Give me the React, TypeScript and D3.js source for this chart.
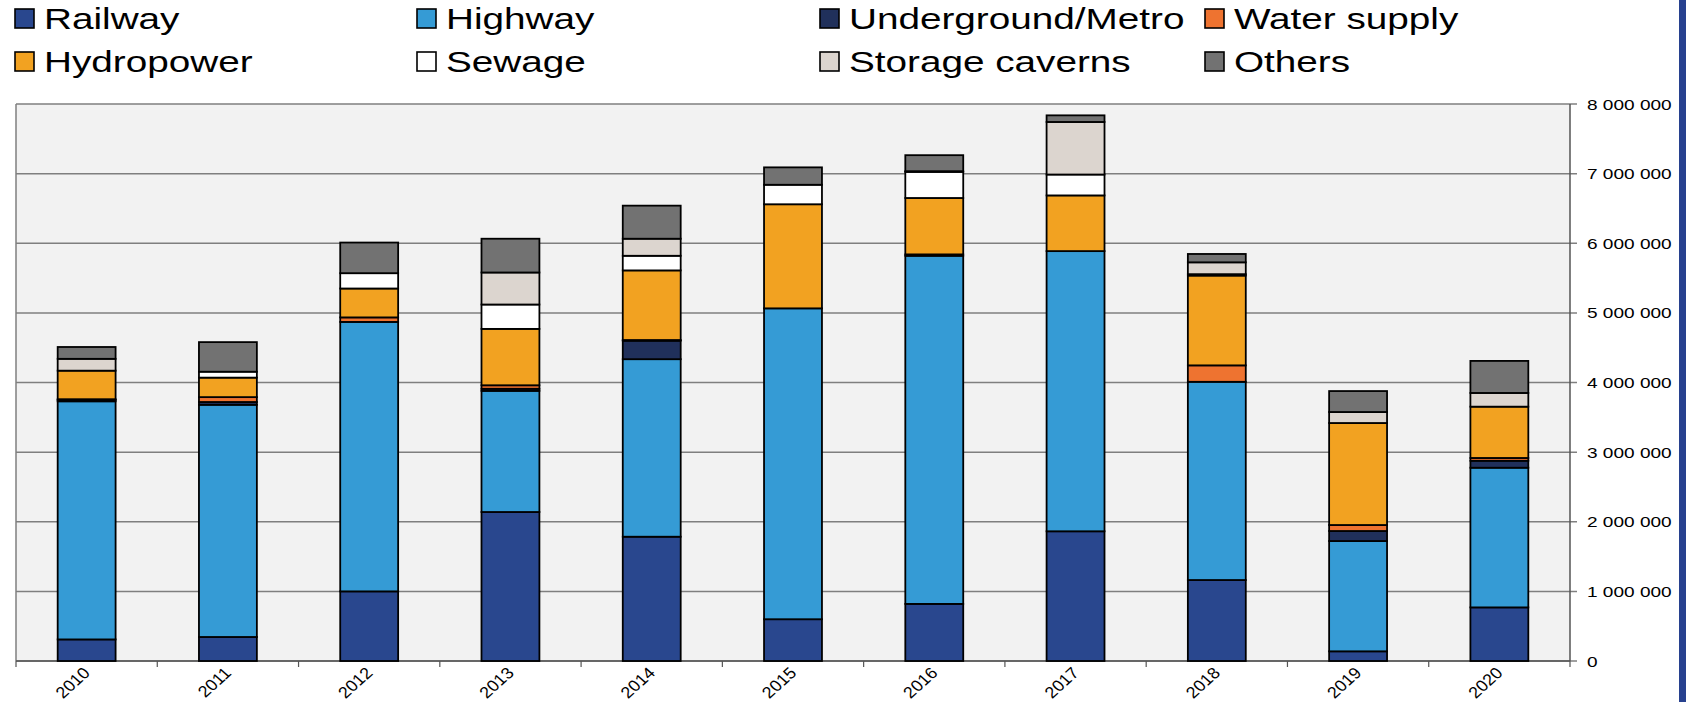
import React from "react";
import * as d3 from "d3";

const years = ["2010","2011","2012","2013","2014","2015","2016","2017","2018","2019","2020"];
const seriesNames = ["Railway","Highway","Underground/Metro","Water supply","Hydropower","Sewage","Storage caverns","Others"];
const seriesColors = ["#29478e","#359bd5","#20305b","#ee7330","#f2a221","#ffffff","#dcd5cf","#727272"];

const railway    = [310000, 345000, 1000000, 2140000, 1785000, 600000, 820000, 1863000, 1163000, 139000, 770000];
const highway    = [3420000, 3335000, 3870000, 1740000, 2550000, 4465000, 5000000, 4024000, 2847000, 1584000, 2006000];
const metro      = [20000, 40000, 0, 30000, 265000, 0, 20000, 0, 0, 144000, 100000];
const water      = [10000, 70000, 65000, 50000, 10000, 0, 0, 0, 236000, 86000, 40000];
const hydropower = [410000, 280000, 415000, 810000, 1000000, 1495000, 810000, 800000, 1290000, 1465000, 737000];
const sewage     = [0, 85000, 220000, 350000, 210000, 280000, 375000, 300000, 20000, 0, 0];
const storage    = [170000, 0, 0, 460000, 245000, 0, 10000, 755000, 170000, 158000, 197000];
const others     = [170000, 425000, 440000, 485000, 475000, 250000, 230000, 95000, 120000, 301000, 460000];

const yTicks = [0, 1000000, 2000000, 3000000, 4000000, 5000000, 6000000, 7000000, 8000000];

const W = 1686, H = 702;
const plotL = 16, plotR = 1570, plotT = 104, plotB = 661;

export default function App() {
  const seriesData = [railway, highway, metro, water, hydropower, sewage, storage, others];
  const rows = years.map((y, i) => {
    const o: any = { year: y };
    seriesNames.forEach((n, k) => (o[n] = seriesData[k][i]));
    return o;
  });
  const stacked = d3.stack().keys(seriesNames)(rows);
  const x = d3.scaleBand().domain(years).range([plotL, plotR]).paddingInner(0.59).paddingOuter(0.295);
  const step = x.step();
  const y = d3.scaleLinear().domain([0, 8000000]).range([plotB, plotT]);
  const fmt = (v: number) => d3.format(",")(v).replace(/,/g, " ");

  const colX = [15, 417, 820, 1205];
  const rowY = [29, 72];
  const legendOrder = ["Railway","Highway","Underground/Metro","Water supply","Hydropower","Sewage","Storage caverns","Others"];

  return (
    <div style={{ position: "fixed", left: 0, top: 0 }}>
      <svg width={W} height={H} style={{ display: "block", fontFamily: "'Liberation Sans', Arial, sans-serif" }}>
        <rect x={0} y={0} width={W} height={H} fill="#ffffff" />
        <rect x={plotL} y={plotT} width={plotR - plotL} height={plotB - plotT} fill="#f2f2f2" />
        {yTicks.map((t) => (
          <line key={"g" + t} x1={plotL} x2={plotR + 7} y1={y(t)} y2={y(t)} stroke="#7f7f7f" strokeWidth={1.5} />
        ))}
        <line x1={plotL} x2={plotL} y1={plotT} y2={plotB} stroke="#7f7f7f" strokeWidth={1.5} />
        <line x1={plotR} x2={plotR} y1={plotT} y2={plotB} stroke="#555" strokeWidth={1.5} />
        <line x1={plotL} x2={plotR} y1={plotB} y2={plotB} stroke="#555" strokeWidth={1.5} />
        {years.map((yr, i) => (
          <line key={"xt" + i} x1={plotL + i * step} x2={plotL + i * step} y1={plotB} y2={plotB + 6} stroke="#555" strokeWidth={1.2} />
        ))}
        <line x1={plotR} x2={plotR} y1={plotB} y2={plotB + 6} stroke="#555" strokeWidth={1.2} />
        {stacked.map((s, k) =>
          s.map((d, i) => {
            const h = y(d[0]) - y(d[1]);
            if (h <= 0) return null;
            return (
              <rect key={k + "-" + i} x={x(years[i])!} y={y(d[1])} width={x.bandwidth()} height={h}
                fill={seriesColors[k]} stroke="#000" strokeWidth={1.8} />
            );
          })
        )}
        {yTicks.map((t) => (
          <text key={"yl" + t} transform={`translate(${plotR + 17},${y(t) + 5.5}) scale(1.27,1)`} fontSize={15} fill="#000">
            {fmt(t)}
          </text>
        ))}
        {years.map((yr) => {
          const cx = x(yr)! + x.bandwidth() / 2 + 4.5;
          return (
            <text key={"xl" + yr} transform={`translate(${cx},${plotB + 13}) scale(1.12,1) rotate(-45)`} fontSize={16} textAnchor="end" fill="#000">
              {yr}
            </text>
          );
        })}
        {legendOrder.map((n, i) => {
          const k = seriesNames.indexOf(n);
          const px = colX[i % 4];
          const py = rowY[Math.floor(i / 4)];
          return (
            <g key={"lg" + n}>
              <rect x={px} y={py - 20} width={19} height={19} fill={seriesColors[k]} stroke="#000" strokeWidth={1.6} />
              <text transform={`translate(${px + 29},${py}) scale(1.29,1)`} fontSize={30} fill="#000">{n}</text>
            </g>
          );
        })}
        <rect x={1679} y={0} width={7} height={H} fill="#27418f" />
      </svg>
    </div>
  );
}
